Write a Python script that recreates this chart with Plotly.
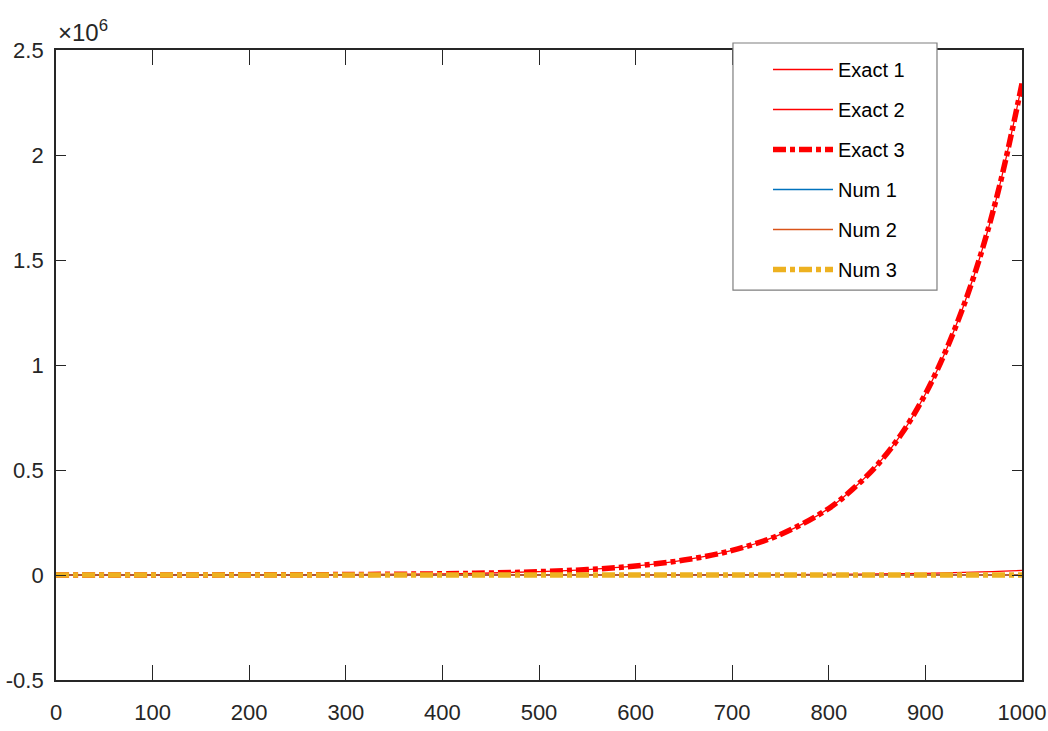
import plotly.graph_objects as go

# ---- data ----
x_exact = [0, 100, 200, 300, 400, 450, 500, 550, 600, 650, 700, 750, 800,
           825, 850, 875, 900, 925, 950, 975, 1000]
exact1 = [106, 290, 790, 2140, 5800, 9600, 15800, 26000, 43000, 71000, 117000,
          193000, 317000, 410000, 523000, 670000, 862000, 1110000, 1420000,
          1820000, 2340000]
exact3 = list(exact1)

x_exact2 = [0, 100, 200, 300, 400, 500, 600, 700, 800, 850, 900, 950, 1000]
exact2 = [1, 3, 7, 20, 55, 150, 400, 1100, 3000, 4900, 8100, 13400, 22000]

x_num = [0, 250, 500, 750, 1000]
num1 = [0, 0, 0, 0, 0]
num2 = [0, 0, 0, 0, 0]
num3 = [0, 0, 0, 0, 0]

x_ticks = [0, 100, 200, 300, 400, 500, 600, 700, 800, 900, 1000]
y_ticks = [-0.5e6, 0, 0.5e6, 1e6, 1.5e6, 2e6, 2.5e6]
y_ticklabels = ["-0.5", "0", "0.5", "1", "1.5", "2", "2.5"]

FONT = "Liberation Sans Narrow, Arial Narrow, Liberation Sans, Arial, sans-serif"
DASHDOT = "13px,4px,5px,4px"

fig = go.Figure()
specs = [
    ("Exact 1", x_exact, exact1, dict(color="#FF0000", width=1.3, shape="spline")),
    ("Exact 2", x_exact2, exact2, dict(color="#FF0000", width=1.3, shape="spline")),
    ("Exact 3", x_exact, exact3, dict(color="#FF0000", width=5.5, dash=DASHDOT, shape="spline")),
    ("Num 1", x_num, num1, dict(color="#0072BD", width=1.3)),
    ("Num 2", x_num, num2, dict(color="#D95319", width=1.3)),
    ("Num 3", x_num, num3, dict(color="#EDB120", width=5.5, dash=DASHDOT)),
]
for i, (name, xs, ys, ln) in enumerate(specs):
    fig.add_trace(go.Scatter(x=xs, y=ys, name=name, mode="lines", line=ln,
                             legendgroup=f"g{i}"))

axis_common = dict(
    showgrid=False, zeroline=False, showline=True, linecolor="#262626",
    linewidth=1.8, mirror="ticks", ticks="inside", tickcolor="#262626",
    tickwidth=1.3, automargin=False,
    tickfont=dict(family=FONT, size=22, color="#262626"),
)

fig.update_xaxes(range=[0, 1000], tickvals=x_ticks,
                 ticktext=[str(v) for v in x_ticks], ticklen=15,
                 ticklabelstandoff=12, **axis_common)
fig.update_yaxes(range=[-0.5e6, 2.5e6], tickvals=y_ticks,
                 ticktext=y_ticklabels, ticklen=10,
                 ticklabelstandoff=6, **axis_common)

# exponent label of the y axis
fig.add_annotation(xref="paper", yref="paper", x=0.0, y=1.0, xanchor="left",
                   yanchor="bottom", showarrow=False, yshift=2,
                   text="\u00d710<sup>6</sup>",
                   font=dict(family=FONT, size=24, color="#262626"))

# legend box (frame) behind the legend entries
fig.add_shape(type="rect", xref="paper", yref="paper",
              x0=0.7008, x1=0.912, y0=0.619, y1=1.0111,
              line=dict(color="#7f7f7f", width=1.2), fillcolor="white",
              layer="above")

fig.update_layout(
    width=1048, height=731,
    margin=dict(l=56, r=26, t=50, b=51),
    paper_bgcolor="white", plot_bgcolor="white",
    font=dict(family=FONT, size=20, color="#000000"),
    legend=dict(x=(768 - 56) / 966, y=(680 - 50) / 630, xanchor="left",
                yanchor="top", bgcolor="rgba(0,0,0,0)", borderwidth=0,
                font=dict(family=FONT, size=20, color="#000000"),
                itemwidth=60, tracegroupgap=11),
    showlegend=True,
)

fig.write_html(
    "out.html",
    config={"displayModeBar": False},
    post_script="document.body.style.margin='0';document.body.style.padding='0';",
)
